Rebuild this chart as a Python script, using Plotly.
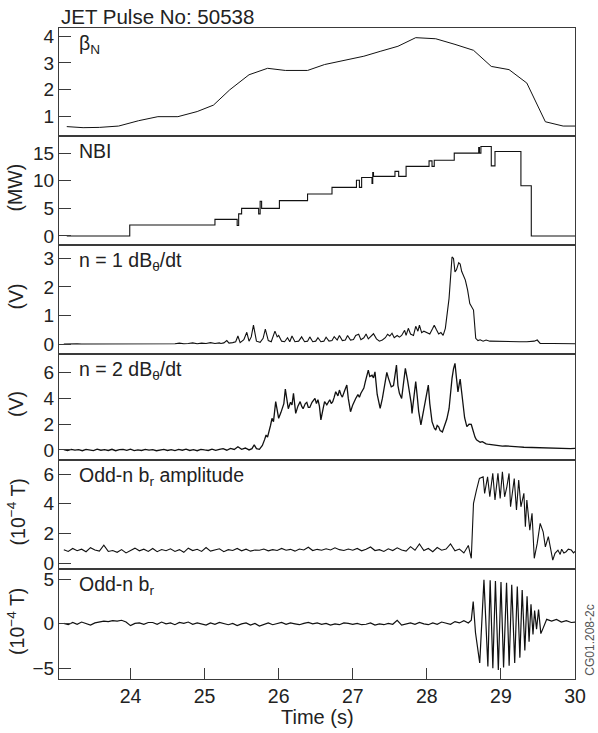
import plotly.graph_objects as go
import numpy as np

# ---------------- data ----------------
X_TICKS = [24, 25, 26, 27, 28, 29, 30]

# Panel 1: beta_N
BETA_T = [23.14, 23.36, 23.58, 23.84, 24.11, 24.37, 24.64, 24.90, 25.12, 25.34, 25.60, 25.85, 26.09, 26.39,
          26.62, 26.88, 27.15, 27.37, 27.61, 27.85, 28.12, 28.38, 28.63, 28.87, 29.11, 29.35, 29.60, 29.84, 30.03]
BETA_V = [0.63, 0.59, 0.60, 0.65, 0.85, 1.00, 1.00, 1.19, 1.43, 2.00, 2.56, 2.80, 2.72, 2.72,
          2.94, 3.10, 3.25, 3.43, 3.62, 3.94, 3.90, 3.69, 3.47, 2.87, 2.75, 2.25, 0.81, 0.65, 0.65]

# Panel 2: NBI power (MW), step signal
NBI_T = [23.14, 23.99, 25.14, 25.44, 25.46, 25.50, 25.73, 25.75, 25.77, 26.01, 26.39, 26.72, 27.05, 27.09,
         27.12, 27.26, 27.27, 27.28, 27.57, 27.62, 27.72, 28.03, 28.07, 28.10, 28.37, 28.70, 28.71, 28.73,
         28.87, 28.92, 29.27, 29.41, 30.03]
NBI_V = [0.0, 2.0, 3.0, 1.9, 4.0, 5.0, 4.0, 6.3, 5.0, 6.4, 7.6, 8.8, 10.1, 8.8,
         10.6, 9.5, 11.5, 10.8, 11.7, 10.8, 12.6, 13.6, 12.6, 13.7, 15.0, 16.0, 15.0, 16.2,
         12.7, 15.3, 9.1, 0.0, 0.0]

# Panel 3: n = 1 dB/dt (V)
N1_BASE_T0, N1_BASE_DT = 23.10, 0.06
N1_BASE_V = [0.00, 0.01, 0.00, 0.01, 0.00, 0.00, 0.01, 0.00, 0.01, 0.00,
             0.01, 0.00, 0.01, 0.01, 0.00, 0.01, 0.00, 0.01, 0.02, 0.00,
             0.01, 0.02, 0.01, 0.00, 0.02, 0.01, 0.03, 0.01, 0.02, 0.04,
             0.01, 0.03, 0.02, 0.05, 0.02, 0.04]
N1_T = [25.22, 25.26, 25.30, 25.33, 25.38, 25.42, 25.45, 25.48, 25.53, 25.57, 25.60, 25.63, 25.66, 25.70,
        25.75, 25.79, 25.82, 25.86, 25.90, 25.95, 25.98, 26.00, 26.04, 26.08, 26.12, 26.15, 26.18, 26.22,
        26.27, 26.31, 26.35, 26.39, 26.42, 26.46, 26.50, 26.53, 26.57, 26.61, 26.64, 26.68, 26.72, 26.75,
        26.79, 26.82, 26.86, 26.90, 26.93, 26.97, 27.01, 27.04, 27.08, 27.11, 27.15, 27.18, 27.21, 27.25,
        27.28, 27.32, 27.36, 27.40, 27.44, 27.47, 27.50, 27.53, 27.56, 27.60, 27.63, 27.66, 27.70, 27.72,
        27.75, 27.78, 27.82, 27.85, 27.88, 27.90, 27.93, 27.96, 28.00, 28.04, 28.08, 28.10, 28.13, 28.16,
        28.19, 28.22, 28.25, 28.30, 28.34, 28.36, 28.38, 28.40, 28.43, 28.45, 28.47, 28.52, 28.55, 28.58,
        28.63, 28.66, 28.69, 28.72, 28.76, 28.80, 28.85, 28.95, 29.05, 29.15, 29.25, 29.35, 29.45, 29.49,
        29.53, 29.70, 29.85, 30.02]
N1_V = [0.02, 0.04, 0.12, 0.03, 0.05, 0.08, 0.28, 0.05, 0.15, 0.41, 0.10, 0.25, 0.66, 0.10,
        0.06, 0.20, 0.52, 0.12, 0.08, 0.45, 0.25, 0.30, 0.10, 0.08, 0.22, 0.08, 0.28, 0.08,
        0.10, 0.25, 0.08, 0.10, 0.25, 0.08, 0.10, 0.22, 0.08, 0.10, 0.24, 0.10, 0.12, 0.26,
        0.14, 0.30, 0.12, 0.14, 0.30, 0.14, 0.16, 0.30, 0.34, 0.15, 0.22, 0.35, 0.18, 0.30,
        0.36, 0.18, 0.10, 0.14, 0.22, 0.34, 0.28, 0.38, 0.22, 0.30, 0.24, 0.30, 0.48, 0.30,
        0.55, 0.35, 0.30, 0.62, 0.45, 0.66, 0.40, 0.45, 0.40, 0.35, 0.55, 0.66, 0.50, 0.35,
        0.40, 0.30, 0.55, 1.60, 3.05, 3.00, 2.53, 2.60, 2.85, 2.80, 2.55, 2.24, 1.90, 1.42,
        1.19, 0.20, 0.12, 0.15, 0.10, 0.14, 0.10, 0.09, 0.08, 0.09, 0.08, 0.08, 0.10, 0.14,
        0.02, 0.02, 0.01, 0.01]

# Panel 4: n = 2 dB/dt (V)
N2_BASE_T0, N2_BASE_DT = 23.10, 0.05
N2_BASE_V = [0.02, -0.04, 0.05, -0.02, 0.03, -0.06, 0.04, 0.00, -0.05, 0.06,
             -0.02, 0.03, -0.04, 0.05, -0.06, 0.02, 0.04, -0.03, 0.06, -0.05,
             0.01, -0.04, 0.05, -0.02, 0.03, -0.06, 0.02, 0.05, -0.04, 0.03,
             -0.05, 0.04, -0.02, 0.06, -0.04, 0.02, -0.06, 0.05, 0.00, -0.04,
             0.06, -0.03, 0.04, 0.10, -0.02, 0.12, 0.04]
N2_T = [25.45, 25.50, 25.55, 25.60, 25.64, 25.67, 25.70, 25.74, 25.78, 25.81,
        25.83, 25.85, 25.87, 25.89, 25.91, 25.93, 25.96, 25.98, 26.00, 26.03,
        26.05, 26.07, 26.09, 26.11, 26.13, 26.16, 26.18, 26.20, 26.23, 26.26,
        26.29, 26.31, 26.33, 26.36, 26.38, 26.40, 26.42, 26.45, 26.49, 26.51,
        26.53, 26.55, 26.57, 26.60, 26.62, 26.65, 26.69, 26.71, 26.73, 26.75,
        26.77, 26.80, 26.82, 26.84, 26.86, 26.89, 26.92, 26.94, 26.97, 27.00,
        27.02, 27.04, 27.07, 27.09, 27.11, 27.13, 27.15, 27.17, 27.19, 27.21,
        27.23, 27.26, 27.28, 27.30, 27.33, 27.35, 27.37, 27.40, 27.42, 27.44,
        27.46, 27.48, 27.50, 27.52, 27.55, 27.57, 27.59, 27.61, 27.63, 27.66,
        27.68, 27.71, 27.74, 27.77, 27.79, 27.80, 27.83, 27.85, 27.87, 27.89,
        27.92, 27.95, 27.98, 28.00, 28.02, 28.04, 28.07, 28.10, 28.12, 28.14,
        28.16, 28.18, 28.21, 28.24, 28.27, 28.30, 28.32, 28.34, 28.36, 28.38,
        28.40, 28.42, 28.44, 28.45, 28.47, 28.49, 28.51, 28.54, 28.57, 28.60,
        28.63, 28.65, 28.67, 28.70, 28.72, 28.75, 28.78, 28.80, 28.82, 28.85,
        28.87, 28.91, 28.95, 28.99, 29.02, 29.06, 29.09, 29.13, 29.18, 29.24,
        29.31, 29.36, 29.42, 29.48, 29.53, 29.58, 29.64, 29.70, 29.75, 29.81,
        29.88, 29.94, 30.02]
N2_V = [0.25, 0.05, 0.15, 0.00, 0.10, 0.40, 0.10, 0.05, 0.35, 0.80,
        1.16, 1.00, 1.60, 1.90, 2.46, 2.20, 3.75, 3.20, 2.46, 2.90,
        3.20, 3.60, 4.73, 4.00, 3.20, 3.70, 3.50, 4.39, 2.84, 3.40,
        3.75, 3.40, 3.20, 3.60, 3.70, 3.30, 3.30, 3.70, 4.00, 3.60,
        3.90, 3.40, 2.33, 3.20, 3.75, 3.50, 3.90, 3.60, 3.75, 4.10,
        4.52, 4.20, 4.65, 4.30, 4.10, 4.60, 5.04, 4.00, 2.97, 3.50,
        3.80, 4.00, 4.30, 4.10, 4.40, 4.60, 4.80, 5.30, 5.81, 6.20,
        5.70, 5.81, 5.60, 6.06, 4.31, 3.60, 3.23, 4.00, 4.80, 5.40,
        6.02, 5.60, 5.30, 4.90, 5.00, 5.80, 6.59, 5.00, 4.40, 4.00,
        5.00, 6.33, 5.40, 4.50, 3.60, 2.84, 4.20, 5.30, 4.20, 3.00,
        1.94, 2.80, 3.75, 4.40, 5.04, 3.60, 2.20, 1.70, 1.55, 1.90,
        1.80, 1.50, 1.40, 1.90, 2.40, 3.20, 4.50, 5.56, 6.30, 6.72,
        5.60, 4.50, 5.20, 5.50, 4.50, 3.50, 2.50, 1.81, 2.00, 1.98,
        1.29, 1.00, 0.78, 0.70, 0.60, 0.65, 0.52, 0.48, 0.45, 0.42,
        0.39, 0.38, 0.35, 0.33, 0.30, 0.32, 0.30, 0.27, 0.25, 0.24,
        0.21, 0.20, 0.18, 0.16, 0.13, 0.14, 0.12, 0.11, 0.10, 0.09,
        0.08, 0.10, 0.13]

# Panel 5: odd-n b_r amplitude (1e-4 T)
BR_BASE_T0, BR_BASE_DT = 23.10, 0.06
BRA_BASE_V = [0.92, 0.80, 1.00, 0.85, 0.95, 0.78, 1.05, 0.90, 0.82, 1.22,
              0.80, 0.86, 0.74, 0.92, 0.70, 0.88, 1.02, 0.84, 0.95, 0.80,
              1.00, 0.78, 0.93, 0.85, 0.98, 0.80, 0.92, 0.74, 1.02, 0.86,
              0.94, 0.80, 1.06, 0.82, 0.90, 0.98, 0.78, 0.92, 0.86, 1.00,
              0.84, 0.95, 0.82, 0.90, 0.88, 0.96, 0.84, 0.92, 0.86, 1.00,
              0.88, 0.94, 0.82, 0.96, 0.90, 1.08, 0.86, 0.94, 0.88, 0.98,
              0.90, 1.04, 0.92, 0.86, 0.96, 0.88, 1.00, 0.84, 0.94, 1.10,
              0.86, 0.92, 0.80, 0.98, 0.86, 1.04, 0.90, 0.82, 1.12, 0.88,
              1.30, 0.86, 1.00, 0.78, 1.06, 0.88, 0.96, 1.30, 0.84, 0.96,
              0.70, 1.20]
BRA_T = [28.60, 28.63, 28.67, 28.71, 28.76, 28.78, 28.82, 28.85, 28.89, 28.92, 28.96, 28.99, 29.02, 29.05,
         29.08, 29.11, 29.13, 29.18, 29.21, 29.24, 29.27, 29.31, 29.33, 29.35, 29.39, 29.42, 29.45, 29.49,
         29.53, 29.57, 29.60, 29.64, 29.70, 29.73, 29.77, 29.80, 29.82, 29.85, 29.88, 29.91, 29.95, 29.98,
         30.01]
BRA_V = [0.34, 4.03, 4.92, 5.70, 5.81, 4.70, 5.81, 4.47, 6.04, 4.25, 6.04, 4.36, 6.15, 4.47,
         5.14, 6.04, 3.80, 5.70, 3.58, 5.59, 3.80, 4.70, 2.46, 4.25, 2.23, 3.36, 0.34, 1.34,
         2.68, 2.12, 1.11, 1.79, 0.22, 0.67, 0.89, 0.60, 0.95, 0.70, 0.78, 0.95, 0.89, 0.70,
         0.85]

# Panel 6: odd-n b_r (1e-4 T)
BR_BASE_V = [0.05, -0.10, 0.15, -0.05, 0.20, 0.00, -0.15, 0.10, 0.20, 0.30,
             0.25, 0.35, 0.30, 0.40, 0.20, -0.20, 0.05, 0.10, -0.05, 0.15,
             0.15, -0.05, 0.20, 0.00, 0.10, -0.10, 0.15, 0.05, 0.20, -0.05,
             0.10, 0.00, -0.15, 0.10, -0.05, 0.15, 0.00, -0.10, 0.05, -0.20,
             0.00, 0.10, -0.15, 0.05, -0.25, -0.05, 0.10, -0.10, 0.05, 0.15,
             -0.05, 0.10, 0.00, -0.10, 0.05, 0.15, 0.00, 0.10, -0.05, 0.05,
             -0.15, 0.00, -0.10, 0.10, 0.05, -0.05, 0.05, -0.10, -0.05, 0.10,
             -0.15, 0.00, -0.10, 0.05, -0.05, 0.40, -0.15, 0.00, 0.10, -0.05,
             0.15, 0.00, -0.10, 0.10, -0.05, 0.20, 0.05, -0.05, 0.25, 0.10,
             0.35, 0.10]
BR_T = [28.60, 28.626, 28.657, 28.714, 28.771, 28.824, 28.855, 28.891, 28.926, 28.965, 29.001, 29.036,
        29.076, 29.111, 29.146, 29.186, 29.221, 29.256, 29.287, 29.323, 29.353, 29.380, 29.406, 29.433,
        29.455, 29.481, 29.508, 29.539, 29.574, 29.618, 29.684, 29.750, 29.816, 29.883, 29.949, 30.015]
BR_V = [0.40, 2.50, -1.00, -4.40, 4.94, -4.80, 4.90, -5.00, 4.80, -5.20, 4.70, -4.90,
        4.60, -4.70, 4.40, -4.40, 4.20, -3.80, 3.80, -3.00, 3.10, -2.00, 2.20, -1.20,
        1.50, -0.60, 1.60, -1.10, -0.40, 0.50, 0.30, 0.50, 0.20, 0.35, 0.15, 0.20]

PANEL_LABELS = ["β<sub>N</sub>", "NBI", "n = 1 dB<sub>θ</sub>/dt", "n = 2 dB<sub>θ</sub>/dt",
                "Odd-n b<sub>r</sub> amplitude", "Odd-n b<sub>r</sub>"]
Y_TITLES = ["", "(MW)", "(V)", "(V)", "(10<sup>−4</sup> T)", "(10<sup>−4</sup> T)"]
Y_TICKS = [[1, 2, 3, 4], [0, 5, 10, 15], [0, 1, 2, 3], [0, 2, 4, 6], [0, 2, 4, 6], [-5, 0, 5]]
Y_RANGES = [[0.28, 4.3], [-1.63, 18.1], [-0.35, 3.47], [-0.78, 7.45], [-0.38, 6.94], [-6.2, 6.16]]
X_RANGE = [23.035, 30.0]


def grid(t0, dt, vals):
    return list(t0 + dt * np.arange(len(vals)))


series = [
    (BETA_T, BETA_V, "linear", 1.0),
    (NBI_T, NBI_V, "hv", 1.1),
    (grid(N1_BASE_T0, N1_BASE_DT, N1_BASE_V) + N1_T, N1_BASE_V + N1_V, "linear", 1.1),
    (grid(N2_BASE_T0, N2_BASE_DT, N2_BASE_V) + N2_T, N2_BASE_V + N2_V, "linear", 1.3),
    (grid(BR_BASE_T0, BR_BASE_DT, BRA_BASE_V) + BRA_T, BRA_BASE_V + BRA_V, "linear", 1.1),
    (grid(BR_BASE_T0, BR_BASE_DT, BR_BASE_V) + BR_T, BR_BASE_V + BR_V, "linear", 1.2),
]

# ---------------- layout ----------------
W, H = 598, 733
ML, MR, MT, MB = 59, 12, 28, 54
PW, PH = W - ML - MR, H - MT - MB
edges_px = [28, 136, 245, 354, 460, 569, 679]
domains = [[(679 - edges_px[i + 1]) / PH, (679 - edges_px[i]) / PH] for i in range(6)]

FONT = "Liberation Sans, Arial, Helvetica, sans-serif"
AX_COL = "#3a3a3a"
TXT = "#222"
TICK_SIZE = 19
LABEL_SIZE = 19.5

fig = go.Figure()
layout = dict(
    width=W, height=H,
    margin=dict(l=ML, r=MR, t=MT, b=MB),
    paper_bgcolor="white", plot_bgcolor="white",
    showlegend=False,
    font=dict(family=FONT, size=LABEL_SIZE, color=TXT),
)
annotations = []
for i in range(6):
    n = i + 1
    xa = "x" if n == 1 else f"x{n}"
    ya = "y" if n == 1 else f"y{n}"
    t, v, shape, lw = series[i]
    fig.add_trace(go.Scatter(x=t, y=v, mode="lines", xaxis=xa, yaxis=ya,
                             line=dict(color="#111", width=lw, shape=shape),
                             hoverinfo="skip"))
    xkey = "xaxis" if n == 1 else f"xaxis{n}"
    ykey = "yaxis" if n == 1 else f"yaxis{n}"
    bottom = (n == 6)
    layout[xkey] = dict(
        domain=[0, 1], anchor=ya, range=X_RANGE, tickvals=X_TICKS,
        showline=True, mirror=True, linecolor=AX_COL, linewidth=1,
        ticks="inside" if bottom else "", ticklen=11, tickcolor=AX_COL,
        showticklabels=bottom, showgrid=False, zeroline=False,
        tickfont=dict(size=19.5, family=FONT, color=TXT),
    )
    layout[ykey] = dict(
        domain=domains[i], anchor=xa, range=Y_RANGES[i], tickvals=Y_TICKS[i],
        showline=True, mirror=True, linecolor=AX_COL, linewidth=1,
        ticks="inside", ticklen=12, tickcolor=AX_COL, ticklabelstandoff=0,
        showgrid=False, zeroline=False,
        tickfont=dict(size=TICK_SIZE, family=FONT, color=TXT),
    )
    annotations.append(dict(
        xref="paper", yref="paper", x=(77 - ML) / PW, y=domains[i][1],
        xanchor="left", yanchor="top", yshift=-2, showarrow=False,
        text=PANEL_LABELS[i], font=dict(size=LABEL_SIZE, family=FONT, color=TXT),
    ))
    if Y_TITLES[i]:
        annotations.append(dict(
            xref="paper", yref="paper", x=(15 - ML) / PW,
            y=(domains[i][0] + domains[i][1]) / 2, yshift=3,
            xanchor="center", yanchor="middle", textangle=-90, showarrow=False,
            text=Y_TITLES[i], font=dict(size=LABEL_SIZE, family=FONT, color=TXT),
        ))

annotations.append(dict(
    xref="paper", yref="paper", x=0, y=1, xanchor="left", yanchor="bottom", yshift=-2,
    showarrow=False, text="JET Pulse No: 50538", font=dict(size=20.5, family=FONT, color=TXT),
))
annotations.append(dict(
    xref="paper", yref="paper", x=0.5, y=-(717 - 679) / PH, xanchor="center", yanchor="middle",
    showarrow=False, text="Time (s)", font=dict(size=20, family=FONT, color=TXT),
))
annotations.append(dict(
    xref="paper", yref="paper", x=(601 - ML) / PW, y=(679 - 640) / PH, xanchor="center",
    yanchor="middle", textangle=-90, showarrow=False, text="CG01.208-2c",
    font=dict(size=12, family=FONT, color="#555"),
))
layout["annotations"] = annotations
fig.update_layout(**layout)
fig.write_html("out.html")
